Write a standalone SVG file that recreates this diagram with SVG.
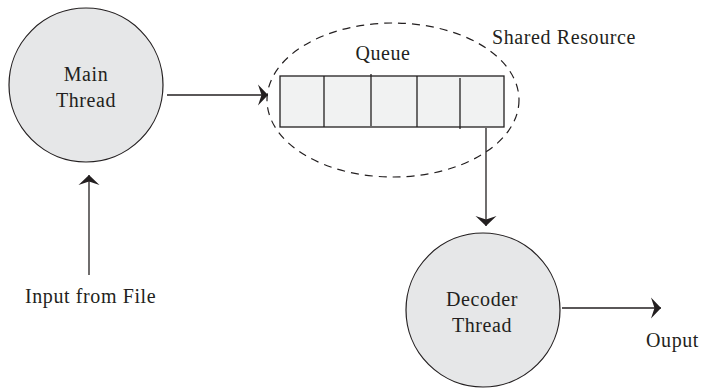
<svg xmlns="http://www.w3.org/2000/svg" width="706" height="388" viewBox="0 0 706 388">
<style>
.node{fill:#e6e7e8;stroke:#231f20;stroke-width:1.2}
.lbl{font-family:"Liberation Serif","DejaVu Serif",serif;font-size:20px;letter-spacing:0.6px;fill:#231f20}
.c{text-anchor:middle}
.conn{stroke:#231f20;stroke-width:1.3;fill:none}
.cell{fill:#f1f2f2;stroke:#231f20;stroke-width:1.3}
.div{stroke:#231f20;stroke-width:1.3}
</style>
<defs>
<marker id="ah" markerUnits="userSpaceOnUse" markerWidth="14" markerHeight="24" viewBox="-11 -12 13 24" refX="0" refY="0" orient="auto">
<path d="M0,0 L-10,-10.5 L-6.5,0 L-10,10.5 Z" fill="#231f20"/>
</marker>
</defs>
<g id="main-thread">
<circle class="node" cx="86" cy="85" r="77"/>
<text class="lbl c" x="86" y="81">Main</text>
<text class="lbl c" x="86" y="107">Thread</text>
</g>
<g id="shared-resource">
<ellipse cx="393" cy="100" rx="126" ry="77" fill="none" stroke="#231f20" stroke-width="1.2" stroke-dasharray="8,6"/>
<text class="lbl" x="492" y="44">Shared Resource</text>
</g>
<g id="queue">
<text class="lbl c" x="383" y="60">Queue</text>
<rect class="cell" x="280" y="76" width="224" height="51"/>
<line class="div" x1="324" y1="76" x2="324" y2="127"/>
<line class="div" x1="371" y1="74" x2="371" y2="126"/>
<line class="div" x1="417" y1="76" x2="417" y2="127"/>
<line class="div" x1="460" y1="78" x2="460" y2="129"/>
</g>
<g id="decoder-thread">
<circle class="node" cx="483" cy="310" r="77"/>
<text class="lbl c" x="482" y="306">Decoder</text>
<text class="lbl c" x="482" y="332">Thread</text>
</g>
<g id="input-label">
<text class="lbl" x="25" y="303">Input from File</text>
</g>
<g id="output-label">
<text class="lbl" x="646" y="347">Ouput</text>
</g>
<g id="connectors">
<line class="conn" x1="167" y1="95" x2="268" y2="95" marker-end="url(#ah)"/>
<line class="conn" x1="486" y1="128" x2="486" y2="226" marker-end="url(#ah)"/>
<line class="conn" x1="562" y1="308" x2="661" y2="308" marker-end="url(#ah)"/>
<line class="conn" x1="89" y1="275" x2="89" y2="175" marker-end="url(#ah)"/>
</g>
</svg>
